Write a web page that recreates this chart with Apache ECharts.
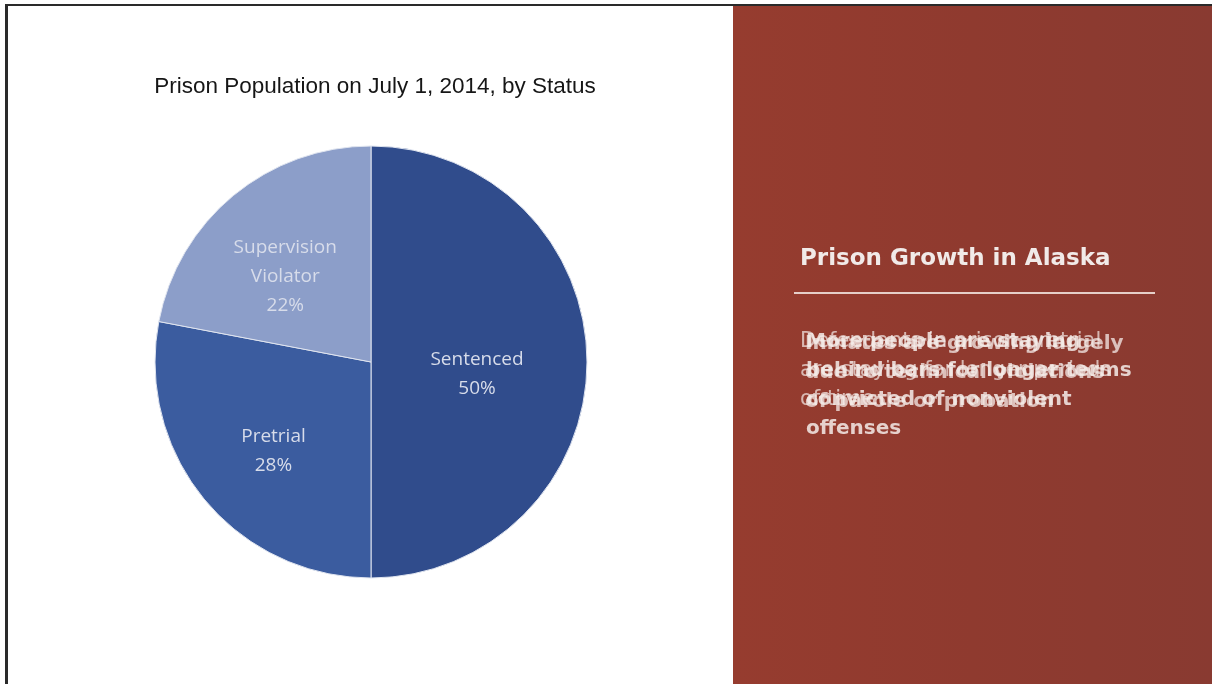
<!DOCTYPE html>
<html>
<head>
<meta charset="utf-8">
<script src="https://cdn.jsdelivr.net/npm/echarts@6/dist/echarts.min.js"></script>
<style>
html,body{margin:0;padding:0;background:#fff;}
#c{width:1212px;height:684px;}
</style>
</head>
<body>
<div id="c"></div>
<script>
const chartTitle = 'Prison Population on July 1, 2014, by Status';
const categories = ['Sentenced', 'Pretrial', 'Supervision\nViolator'];
const shares = [50, 28, 22];
const sliceColors = ['#304c8c', '#3b5c9f', '#8c9ec9'];
const panelTitle = 'Prison Growth in Alaska';
const panelTextA = ['Defendants in prison pretrial', 'are staying for longer periods', 'of time'];
const panelTextB = ['Inmates are growing largely', 'due to technical violations', 'of parole or probation'];
const panelTextC = ['More people are staying', 'behind bars for longer terms', 'convicted of nonviolent', 'offenses'];

// per-label layout nudges: right padding (horizontal) and top spacer height (vertical)
const labelPadRight = [10, 24, 30];
const labelGapTop = [24, 36, 0];

const chart = echarts.init(document.getElementById('c'));

function textBlock(lines, x, y, lh, weight, opacity, size) {
  return lines.map((t, i) => ({
    type: 'text', left: x, top: y + i * lh, silent: true,
    style: { text: t, fill: 'rgba(245,236,233,' + opacity + ')', font: weight + ' ' + size + 'px "DejaVu Sans", sans-serif' }
  }));
}

const graphics = [
  { type: 'rect', shape: { x: 733, y: 6, width: 479, height: 678 }, z: -10,
    style: { fill: new echarts.graphic.LinearGradient(0, 0, 1, 0, [
      { offset: 0, color: '#963c2f' }, { offset: 0.5, color: '#8f3a2f' }, { offset: 1, color: '#893a31' }]) } },
  { type: 'rect', shape: { x: 6, y: 4, width: 1206, height: 2 }, style: { fill: '#2a2a2a' } },
  { type: 'rect', shape: { x: 5, y: 4, width: 3, height: 680 }, style: { fill: '#2a2a2a' } },
  { type: 'text', left: 800, top: 248, silent: true,
    style: { text: panelTitle, fill: '#f1eae8', font: '600 23px "DejaVu Sans", sans-serif' } },
  { type: 'rect', shape: { x: 794, y: 292, width: 361, height: 2 }, style: { fill: '#e6cfc9' } }
].concat(
  textBlock(panelTextA, 800, 331, 29, 'normal', 0.7, 21),
  textBlock(panelTextB, 805, 334, 29, 'bold', 0.75, 20),
  textBlock(panelTextC, 806, 332, 29, 'bold', 0.85, 20)
);

chart.setOption({
  backgroundColor: 'transparent',
  title: {
    text: chartTitle, left: 370, top: 70, textAlign: 'center',
    textStyle: { fontFamily: '"Liberation Sans", Arial, sans-serif', fontSize: 22.5, fontWeight: 'normal', color: '#161616' }
  },
  graphic: graphics,
  series: [{
    type: 'pie',
    center: [371, 362],
    radius: [0, 216],
    startAngle: 90,
    clockwise: true,
    silent: true,
    itemStyle: { borderColor: '#dfe4ef', borderWidth: 1 },
    labelLine: { show: false },
    data: categories.map((n, i) => ({
      name: n, value: shares[i],
      itemStyle: { color: sliceColors[i] },
      label: {
        show: true, position: 'inside',
        padding: [0, labelPadRight[i], 0, 0],
        formatter: p => (labelGapTop[i] ? '{g| }\n' : '') + p.name.split('\n').map(s => '{t|' + s + '}').join('\n') + '\n{t|' + p.value + '%}',
        rich: {
          g: { lineHeight: labelGapTop[i] || 1, fontSize: 1 },
          t: { color: '#d7dcea', fontSize: 19, lineHeight: 29, fontFamily: '"Open Sans", "Noto Sans", sans-serif' }
        }
      }
    }))
  }]
});
</script>
</body>
</html>
